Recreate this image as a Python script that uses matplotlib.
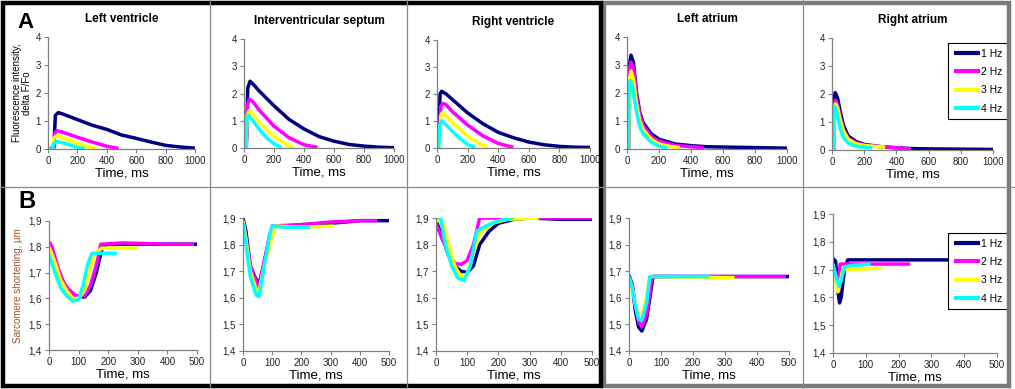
import numpy as np
import matplotlib.pyplot as plt
from matplotlib.lines import Line2D
from matplotlib.patches import Rectangle

W, H = 1015, 389

panels = ['Left ventricle', 'Interventricular septum', 'Right ventricle', 'Left atrium', 'Right atrium']
freqs = ['1 Hz', '2 Hz', '3 Hz', '4 Hz']
colors = ['#000080', '#ff00ff', '#ffff00', '#00ffff']

# ---- calcium transients, delta F/Fo (time in ms, value)
lv_ca = [
    ([0, 40, 50, 70, 100, 200, 300, 400, 500, 600, 700, 800, 900, 1000],
     [0, 0.05, 1.2, 1.3, 1.25, 1.05, 0.85, 0.7, 0.5, 0.38, 0.25, 0.13, 0.07, 0.03]),
    ([0, 35, 45, 60, 100, 200, 300, 400, 480], [0, 0, 0.55, 0.65, 0.6, 0.42, 0.25, 0.1, 0.02]),
    ([0, 30, 40, 60, 100, 200, 280, 330], [0, 0, 0.4, 0.47, 0.4, 0.2, 0.07, 0.01]),
    ([0, 30, 40, 60, 100, 150, 200, 250], [0, 0, 0.2, 0.27, 0.22, 0.14, 0.06, 0.01]),
]
ivs_ca = [
    ([0, 15, 25, 40, 60, 100, 200, 300, 400, 500, 600, 700, 800, 900, 1000],
     [0, 0, 2.2, 2.45, 2.35, 2.1, 1.55, 1.05, 0.7, 0.42, 0.25, 0.13, 0.07, 0.03, 0.01]),
    ([0, 15, 25, 35, 60, 100, 200, 300, 400, 490], [0, 0, 1.6, 1.8, 1.7, 1.4, 0.8, 0.38, 0.12, 0.02]),
    ([0, 12, 22, 35, 60, 100, 200, 300, 330], [0, 0, 1.2, 1.38, 1.25, 0.95, 0.42, 0.07, 0.02]),
    ([0, 10, 20, 30, 60, 100, 150, 200, 250], [0, 0, 1.1, 1.2, 1.0, 0.7, 0.38, 0.15, 0.02]),
]
rv_ca = [
    ([0, 10, 20, 30, 60, 100, 200, 300, 400, 500, 600, 700, 800, 900, 1000],
     [0, 0, 2.0, 2.1, 2.0, 1.8, 1.3, 0.9, 0.58, 0.38, 0.22, 0.12, 0.06, 0.03, 0.02]),
    ([0, 15, 25, 40, 60, 100, 200, 300, 400, 500], [0, 0, 1.55, 1.65, 1.6, 1.35, 0.85, 0.45, 0.17, 0.02]),
    ([0, 15, 25, 35, 60, 100, 200, 280, 330], [0, 0, 1.2, 1.3, 1.2, 0.95, 0.45, 0.15, 0.02]),
    ([0, 10, 20, 30, 60, 100, 150, 200, 250], [0, 0, 0.9, 1.0, 0.85, 0.62, 0.35, 0.13, 0.02]),
]
la_ca = [
    ([0, 10, 15, 25, 40, 60, 80, 100, 150, 200, 300, 400, 500, 600, 800, 1000],
     [0, 0, 3.0, 3.35, 3.1, 2.0, 1.3, 0.95, 0.55, 0.35, 0.18, 0.12, 0.08, 0.07, 0.05, 0.03]),
    ([0, 10, 15, 25, 40, 60, 80, 100, 150, 200, 300, 400, 480],
     [0, 0, 2.8, 3.1, 2.9, 1.9, 1.2, 0.85, 0.45, 0.28, 0.13, 0.08, 0.05]),
    ([0, 10, 15, 25, 40, 60, 80, 100, 150, 200, 260, 330],
     [0, 0, 2.5, 2.78, 2.5, 1.6, 1.0, 0.7, 0.35, 0.18, 0.1, 0.05]),
    ([0, 8, 12, 20, 35, 60, 80, 100, 150, 200, 250],
     [0, 0, 2.2, 2.45, 2.2, 1.3, 0.8, 0.55, 0.25, 0.1, 0.04]),
]
ra_ca = [
    ([0, 10, 15, 20, 35, 50, 70, 100, 150, 200, 300, 400, 500, 600, 800, 1000],
     [0, 0, 1.9, 2.05, 1.85, 1.4, 0.9, 0.5, 0.3, 0.2, 0.12, 0.08, 0.05, 0.04, 0.03, 0.02]),
    ([0, 10, 15, 22, 35, 50, 70, 100, 150, 200, 300, 400, 490],
     [0, 0, 1.6, 1.78, 1.6, 1.2, 0.75, 0.42, 0.25, 0.18, 0.12, 0.08, 0.04]),
    ([0, 10, 15, 22, 35, 50, 70, 100, 150, 200, 330],
     [0, 0, 1.5, 1.65, 1.5, 1.1, 0.7, 0.38, 0.22, 0.16, 0.1]),
    ([0, 8, 12, 18, 30, 50, 70, 100, 150, 200, 250],
     [0, 0, 1.3, 1.55, 1.3, 0.8, 0.45, 0.25, 0.13, 0.1, 0.08]),
]

# ---- sarcomere shortening, um
lv_sl = [
    ([0, 20, 40, 60, 90, 120, 140, 160, 180, 200, 300, 400, 500],
     [1.79, 1.74, 1.68, 1.64, 1.61, 1.605, 1.63, 1.7, 1.8, 1.81, 1.81, 1.81, 1.81]),
    ([0, 10, 30, 50, 70, 90, 120, 140, 160, 175, 250, 400, 490],
     [1.82, 1.8, 1.72, 1.66, 1.63, 1.61, 1.61, 1.65, 1.73, 1.81, 1.815, 1.81, 1.81]),
    ([0, 20, 40, 60, 80, 100, 120, 140, 160, 180, 300],
     [1.8, 1.74, 1.67, 1.63, 1.6, 1.6, 1.63, 1.72, 1.78, 1.795, 1.795]),
    ([0, 20, 40, 60, 80, 100, 115, 130, 145, 230],
     [1.77, 1.7, 1.64, 1.61, 1.59, 1.595, 1.65, 1.73, 1.775, 1.775]),
]
ivs_sl = [
    ([0, 10, 25, 40, 55, 70, 90, 110, 150, 200, 300, 400, 500],
     [1.9, 1.85, 1.72, 1.68, 1.65, 1.72, 1.82, 1.87, 1.87, 1.875, 1.88, 1.89, 1.89]),
    ([0, 10, 25, 45, 55, 70, 90, 100, 200, 300, 400, 460],
     [1.89, 1.83, 1.72, 1.66, 1.64, 1.72, 1.83, 1.87, 1.875, 1.885, 1.89, 1.89]),
    ([0, 10, 25, 45, 55, 75, 100, 110, 200, 310],
     [1.89, 1.82, 1.7, 1.63, 1.625, 1.73, 1.83, 1.87, 1.865, 1.87]),
    ([0, 10, 25, 45, 55, 70, 90, 100, 150, 230],
     [1.88, 1.8, 1.68, 1.61, 1.605, 1.7, 1.83, 1.87, 1.865, 1.865]),
]
rv_sl = [
    ([0, 20, 40, 60, 80, 100, 120, 140, 170, 200, 250, 300, 400, 500],
     [1.89, 1.83, 1.76, 1.72, 1.7, 1.695, 1.72, 1.8, 1.85, 1.88, 1.895, 1.9, 1.895, 1.895]),
    ([0, 20, 40, 60, 80, 100, 120, 140, 200, 500],
     [1.88, 1.82, 1.77, 1.73, 1.725, 1.74, 1.8, 1.9, 1.9, 1.9]),
    ([0, 20, 40, 60, 80, 100, 120, 140, 180, 230, 330],
     [1.89, 1.89, 1.8, 1.72, 1.68, 1.69, 1.77, 1.84, 1.88, 1.895, 1.9]),
    ([0, 15, 30, 50, 70, 90, 110, 130, 160, 200, 250],
     [1.9, 1.9, 1.8, 1.72, 1.675, 1.665, 1.72, 1.85, 1.87, 1.89, 1.9]),
]
la_sl = [
    ([0, 10, 20, 30, 40, 55, 65, 75, 500], [1.685, 1.65, 1.55, 1.49, 1.475, 1.52, 1.6, 1.68, 1.68]),
    ([0, 10, 20, 30, 40, 55, 65, 72, 490], [1.68, 1.65, 1.57, 1.51, 1.49, 1.54, 1.62, 1.68, 1.68]),
    ([0, 10, 20, 30, 40, 55, 65, 330], [1.67, 1.63, 1.58, 1.535, 1.53, 1.6, 1.68, 1.675]),
    ([0, 10, 20, 30, 40, 55, 65, 250], [1.68, 1.64, 1.57, 1.52, 1.515, 1.58, 1.68, 1.68]),
]
ra_sl = [
    ([0, 8, 15, 20, 25, 35, 45, 500], [1.74, 1.73, 1.62, 1.58, 1.6, 1.7, 1.735, 1.735]),
    ([0, 8, 12, 18, 22, 235], [1.72, 1.66, 1.65, 1.68, 1.72, 1.72]),
    ([0, 8, 15, 22, 30, 150], [1.7, 1.66, 1.62, 1.66, 1.7, 1.705]),
    ([0, 10, 18, 25, 35, 60, 115], [1.72, 1.67, 1.64, 1.66, 1.71, 1.715, 1.72]),
]

top_data = [lv_ca, ivs_ca, rv_ca, la_ca, ra_ca]
bot_data = [lv_sl, ivs_sl, rv_sl, la_sl, ra_sl]

top_yticks = [0, 1, 2, 3, 4]
top_xticks = [0, 200, 400, 600, 800, 1000]
bot_yticks = [1.4, 1.5, 1.6, 1.7, 1.8, 1.9]
bot_ytick_labels = ['1,4', '1,5', '1,6', '1,7', '1,8', '1,9']
bot_xticks = [0, 100, 200, 300, 400, 500]

# pixel boxes (x0, x1, ytop, ybottom)
top_boxes = [(48, 195, 37, 149), (244, 394, 39, 148), (437, 590, 40, 148), (627, 787, 37, 149), (832, 993, 38, 150)]
bot_boxes = [(49, 197, 221, 350), (243, 389, 218, 351), (436, 592, 218, 351), (629, 789, 218, 351), (833, 997, 214, 353)]

plt.rcParams['font.family'] = ['Liberation Sans', 'DejaVu Sans']
fig = plt.figure(figsize=(W / 100, H / 100), dpi=100)


def px_axes(box):
    x0, x1, yt, yb = box
    return fig.add_axes([x0 / W, 1 - yb / H, (x1 - x0) / W, (yb - yt) / H])


def style(ax):
    for s in ['top', 'right']:
        ax.spines[s].set_visible(False)
    for s in ['left', 'bottom']:
        ax.spines[s].set_color('#808080')
        ax.spines[s].set_linewidth(0.9)
    ax.tick_params(labelsize=7, length=3, width=0.8, color='#808080', pad=2, labelcolor='#222222')
    ax.set_facecolor('none')


def add_legend(ax, top_px):
    leg = ax.legend(loc='upper right', bbox_to_anchor=(1008 / W, 1 - top_px / H), bbox_transform=fig.transFigure,
                    fontsize=7.5, fancybox=False, edgecolor='black', handlelength=2.5, handletextpad=0.1,
                    labelspacing=0.8, borderpad=0.55, borderaxespad=0, framealpha=1)
    leg.get_frame().set_linewidth(0.8)
    for h in leg.get_lines():
        h.set_linewidth(3)


for i in range(5):
    ax = px_axes(top_boxes[i])
    for (t, v), c, lab in zip(top_data[i], colors, freqs):
        ax.plot(t, v, color=c, lw=2.5, label=lab, solid_capstyle='butt')
    ax.set_xlim(0, 1000)
    ax.set_ylim(0, 4)
    ax.set_xticks(top_xticks)
    ax.set_yticks(top_yticks)
    style(ax)
    ax.set_xlabel('Time, ms', fontsize=9.5, labelpad=1)
    ax.set_title(panels[i], fontsize=8.5, fontweight='bold', pad=11)
    if i == 0:
        ax.set_ylabel('Fluorescence intensity,\ndelta F/Fo', fontsize=7, labelpad=3, linespacing=1.0)
    if i == 4:
        add_legend(ax, 43)

for i in range(5):
    ax = px_axes(bot_boxes[i])
    for (t, v), c, lab in zip(bot_data[i], colors, freqs):
        ax.plot(t, v, color=c, lw=2.5, label=lab, solid_capstyle='butt')
    ax.set_xlim(0, 500)
    ax.set_ylim(1.4, 1.9)
    ax.set_xticks(bot_xticks)
    ax.set_yticks(bot_yticks)
    ax.set_yticklabels(bot_ytick_labels)
    style(ax)
    ax.set_xlabel('Time, ms', fontsize=9.5, labelpad=1)
    if i == 0:
        ax.set_ylabel('Sarcomere shortening, µm', fontsize=7, color='#a0522d', labelpad=4)
    if i == 4:
        add_legend(ax, 233)

# panel letters
fig.text(17 / W, 1 - 22 / H, 'A', fontsize=16, fontweight='heavy', va='center', ha='left')
fig.text(18 / W, 1 - 201 / H, 'B', fontsize=17, fontweight='heavy', va='center', ha='left')

# frame lines
sep = '#8a8a8a'
for x in [210, 407, 803]:
    fig.add_artist(Line2D([x / W, x / W], [0, 1], color=sep, lw=0.9))
fig.add_artist(Line2D([0, 1], [1 - 187 / H, 1 - 187 / H], color=sep, lw=0.9))
fig.add_artist(Rectangle((604 / W, 3 / H), 405 / W, 383 / H, fill=False, edgecolor='#7a7a7a', lw=3.2))
fig.add_artist(Rectangle((3 / W, 3 / H), 598 / W, 383 / H, fill=False, edgecolor='black', lw=3.2))

fig.savefig('out.png', dpi=100, facecolor='white')
